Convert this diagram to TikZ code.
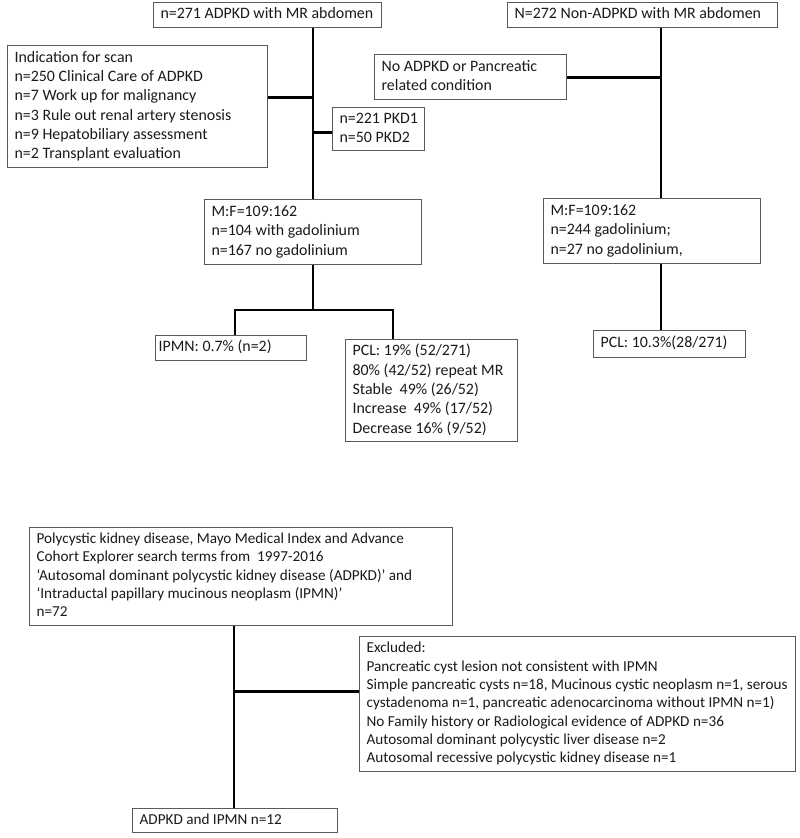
\documentclass[tikz,border=0pt]{standalone}
\usepackage{fontspec}
\setmainfont{Carlito}
\definecolor{boxline}{HTML}{5A5A5A}
\definecolor{txt}{HTML}{1A1A1A}
\tikzset{
  box/.style={draw=boxline, line width=1.2pt, anchor=north west, inner xsep=7pt, inner ysep=0pt,
    text=txt, font=\fontsize{15.9}{19.3}\selectfont},
  boxs/.style={box, font=\fontsize{15.2}{18.3}\selectfont},
  conn/.style={draw=black, line width=2.8pt}
}
\newcommand{\bx}[8][7]{\node[#2, inner xsep=#1pt, minimum width=#5pt, minimum height=#6pt] (#7) at (#3,#4)
  {\makebox[\dimexpr#5pt-2\dimexpr#1pt\relax\relax][l]{\begin{tabular}{@{}l@{}}#8\end{tabular}}};}
\begin{document}
\begin{tikzpicture}[x=1pt,y=-1pt]
\useasboundingbox (0,0) rectangle (800,838);
% top left
\bx{box}{153}{2}{228}{25}{topL}{n=271 ADPKD with MR abdomen}
\bx{box}{7}{45}{260}{122}{ind}{Indication for scan\\n=250 Clinical Care of ADPKD\\n=7 Work up for malignancy\\n=3 Rule out renal artery stenosis\\n=9 Hepatobiliary assessment\\n=2 Transplant evaluation}
\bx{box}{332}{107}{92}{43}{pkd}{n=221 PKD1\\n=50 PKD2}
\bx{box}{204}{199}{217}{65}{mfL}{M:F=109:162\\n=104 with gadolinium\\n=167 no gadolinium}
\bx[3]{box}{155}{335}{151}{25}{ipmn}{IPMN: 0.7\% (n=2)}
\bx{box}{345}{339}{172}{102}{pclL}{PCL: 19\% (52/271)\\80\% (42/52) repeat MR\\Stable\ \ 49\% (26/52)\\Increase\ \ 49\% (17/52)\\Decrease 16\% (9/52)}
% top right
\bx{box}{507}{2}{270}{25}{topR}{N=272 Non-ADPKD with MR abdomen}
\bx{box}{374}{54}{192}{45}{noadpkd}{No ADPKD or Pancreatic\\related condition}
\bx{box}{543}{198}{217}{65}{mfR}{M:F=109:162\\n=244 gadolinium;\\n=27 no gadolinium,}
\bx{box}{593}{330}{152}{27}{pclR}{PCL: 10.3\%(28/271)}
% bottom
\bx{boxs}{29}{527}{423}{98}{poly}{Polycystic kidney disease, Mayo Medical Index and Advance\\Cohort Explorer search terms from\ \ 1997-2016\\‘Autosomal dominant polycystic kidney disease (ADPKD)’ and\\‘Intraductal papillary mucinous neoplasm (IPMN)’\\n=72}
\bx{boxs}{359}{636}{436}{135}{excl}{Excluded:\\Pancreatic cyst lesion not consistent with IPMN\\Simple pancreatic cysts n=18, Mucinous cystic neoplasm n=1, serous\\cystadenoma n=1, pancreatic adenocarcinoma without IPMN n=1)\\No Family history or Radiological evidence of ADPKD n=36\\Autosomal dominant polycystic liver disease n=2\\Autosomal recessive polycystic kidney disease n=1}
\bx{boxs}{132}{808}{205}{24}{final}{ADPKD and IPMN n=12}
% connectors left
\coordinate (lx) at (313,0);
\draw[conn] (topL.south -| lx) -- (mfL.north -| lx);
\draw[conn] ([yshift=9pt]ind.east) -- ([yshift=9pt]ind.east -| lx);
\draw[conn] ([yshift=-3pt]pkd.west) -- ([yshift=-3pt]pkd.west -| lx);
\coordinate (bl) at (235,310);
\coordinate (br) at (393,310);
\draw[conn] (mfL.south -| lx) -- (bl -| lx);
\draw[conn] (bl |- ipmn.north) -- (bl) -- (br) -- (br |- pclL.north);
% connectors right
\coordinate (rx) at (661,0);
\draw[conn] (topR.south -| rx) -- (mfR.north -| rx);
\draw[conn] (noadpkd.east) -- (noadpkd.east -| rx);
\draw[conn] (mfR.south -| rx) -- (pclR.north -| rx);
% connectors bottom
\coordinate (bx) at (234,0);
\draw[conn] (poly.south -| bx) -- (final.north -| bx);
\draw[conn] ([yshift=12.5pt]excl.west) -- ([yshift=12.5pt]excl.west -| bx);
\end{tikzpicture}
\end{document}
